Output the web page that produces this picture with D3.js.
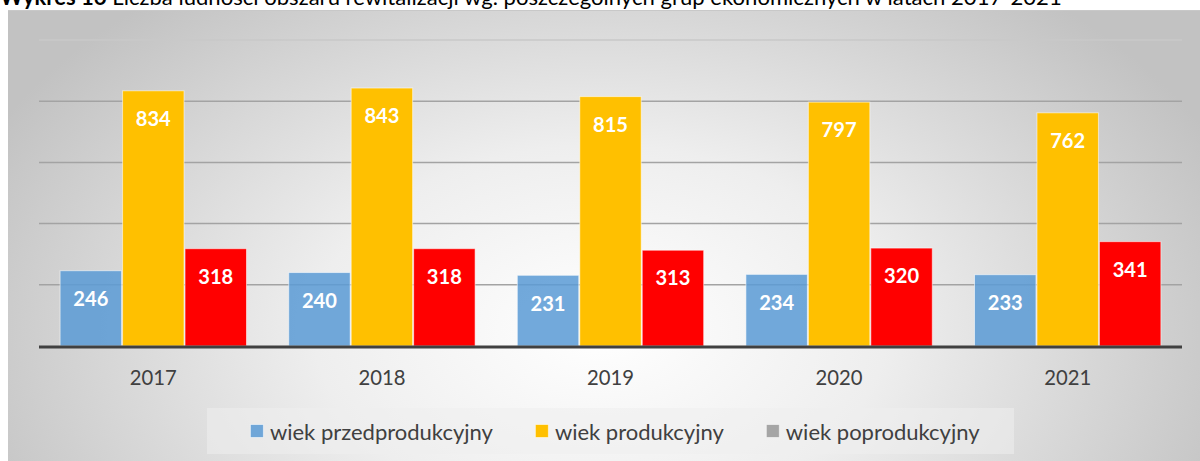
<!DOCTYPE html>
<html>
<head>
<meta charset="utf-8">
<script src="https://cdn.jsdelivr.net/npm/d3@7"></script>
<style>
  html, body { margin: 0; padding: 0; background: #ffffff; }
  svg { display: block; }
</style>
</head>
<body>
<svg id="chart" width="1200" height="461"></svg>
<script>
// ---- data ----
const titleBold = "Wykres 16";
const titleRest = " Liczba ludności obszaru rewitalizacji wg. poszczególnych grup ekonomicznych w latach 2017-2021";
const categories = ["2017", "2018", "2019", "2020", "2021"];
const seriesNames = ["wiek przedprodukcyjny", "wiek produkcyjny", "wiek poprodukcyjny"];
const przedprodukcyjny = [246, 240, 231, 234, 233];
const produkcyjny = [834, 843, 815, 797, 762];
const poprodukcyjny = [318, 318, 313, 320, 341];
const barColors = ["#5B9BD5", "#FFC000", "#FF0000"];
const legendColors = ["#5B9BD5", "#FFC000", "#A5A5A5"];
const yTicks = [0, 200, 400, 600, 800, 1000];

const seriesValues = [przedprodukcyjny, produkcyjny, poprodukcyjny];
const FONT = "Lato, 'Open Sans', sans-serif";

const svg = d3.select("#chart");
const W = 1200, H = 461;

// background gradient
const defs = svg.append("defs");
const grad = defs.append("radialGradient")
  .attr("id", "bg")
  .attr("gradientUnits", "userSpaceOnUse")
  .attr("cx", 0).attr("cy", 0).attr("r", 1)
  .attr("gradientTransform", "translate(600,330) scale(680,440)");
grad.append("stop").attr("offset", 0).attr("stop-color", "#ffffff");
grad.append("stop").attr("offset", 0.42).attr("stop-color", "#eeeeee");
grad.append("stop").attr("offset", 1).attr("stop-color", "#c2c2c2");

svg.append("rect")
  .attr("x", 8).attr("y", 10).attr("width", W - 8).attr("height", H - 10)
  .attr("fill", "url(#bg)");
svg.append("line")
  .attr("x1", 8).attr("x2", W).attr("y1", 10.5).attr("y2", 10.5)
  .attr("stroke", "#c8c8c8").attr("stroke-width", 1);

// helper: fit font size to a target width
function fitSize(sel, target) {
  const w0 = sel.node().getComputedTextLength();
  const fs = parseFloat(sel.attr("font-size"));
  return fs * target / w0;
}

// title (cut off at the top edge, as in the source)
const title = svg.append("text")
  .attr("x", 0).attr("y", 5)
  .attr("font-family", FONT).attr("font-size", 18).attr("fill", "#000");
title.append("tspan").attr("font-weight", "bold").text(titleBold);
title.append("tspan").text(titleRest);
title.attr("font-size", fitSize(title, 1062));

// scales
const plot = { left: 39, right: 1182, top: 40, bottom: 346 };
const y = d3.scaleLinear().domain([0, 1000]).range([plot.bottom, plot.top]);
const x0 = d3.scaleBand().domain(categories).range([plot.left, plot.right]).padding(0);
const x1 = d3.scaleBand().domain(d3.range(seriesNames.length))
  .range([0, x0.bandwidth()]).paddingInner(0).paddingOuter(0.33);

// gridlines
svg.append("g").selectAll("line")
  .data(yTicks.filter(d => d > 0))
  .join("line")
  .attr("x1", plot.left).attr("x2", plot.right)
  .attr("y1", d => y(d)).attr("y2", d => y(d))
  .attr("stroke", d => d === 1000 ? "#c9c9c9" : "#a3a3a3")
  .attr("stroke-width", 1.5);

// bars
const groups = svg.append("g").selectAll("g")
  .data(categories)
  .join("g")
  .attr("transform", d => `translate(${x0(d)},0)`);

const cells = groups.selectAll("g.cell")
  .data((c, ci) => seriesValues.map((vals, si) => ({ si, v: vals[ci] })))
  .join("g").attr("class", "cell");

cells.append("rect")
  .attr("x", d => x1(d.si) + 0.5)
  .attr("width", x1.bandwidth() - 1)
  .attr("y", d => y(d.v))
  .attr("height", d => y(0) - y(d.v))
  .attr("fill", d => barColors[d.si])
  .attr("fill-opacity", d => d.si === 0 ? 0.86 : 1)
  .attr("stroke", "rgba(255,255,255,0.55)")
  .attr("stroke-width", 1);

const labels = cells.append("text")
  .attr("x", d => x1(d.si) + x1.bandwidth() / 2)
  .attr("y", d => y(d.v) + 28)
  .attr("dy", "0.36em")
  .attr("text-anchor", "middle")
  .attr("font-family", FONT).attr("font-weight", "bold")
  .attr("font-size", 21).attr("fill", "#ffffff")
  .text(d => d.v);
labels.attr("font-size", fitSize(d3.select(labels.nodes()[0]), 35));

// baseline axis
svg.append("line")
  .attr("x1", plot.left).attr("x2", plot.right)
  .attr("y1", y(0) + 1).attr("y2", y(0) + 1)
  .attr("stroke", "#404040").attr("stroke-width", 3);

// x axis labels
const xAxis = d3.axisBottom(x0).tickSize(0).tickPadding(0);
const gx = svg.append("g").attr("transform", `translate(0,${y(0)})`).call(xAxis);
gx.select(".domain").remove();
const xt = gx.selectAll("text")
  .attr("y", 39).attr("dy", 0)
  .attr("font-family", FONT).attr("font-size", 20).attr("fill", "#404040");
xt.attr("font-size", fitSize(d3.select(xt.nodes()[0]), 47));

// legend
svg.append("rect")
  .attr("x", 207).attr("y", 408).attr("width", 807).attr("height", 46)
  .attr("fill", "#eeeeee").attr("fill-opacity", 0.55);

const legendTargets = [223, 170, 196];
const lg = svg.append("g");
const items = lg.selectAll("g").data(seriesNames).join("g");
items.append("rect")
  .attr("width", 13).attr("height", 13)
  .attr("y", 424.5)
  .attr("fill", (d, i) => legendColors[i])
  .attr("fill-opacity", (d, i) => i === 0 ? 0.86 : 1)
  .attr("stroke", "rgba(255,255,255,0.55)");
const ltexts = items.append("text")
  .attr("y", 439.5)
  .attr("font-family", FONT).attr("font-size", 20).attr("fill", "#404040")
  .text(d => d);
ltexts.attr("font-size", fitSize(d3.select(ltexts.nodes()[0]), legendTargets[0]));
const widths = ltexts.nodes().map(n => n.getComputedTextLength());
const itemW = widths.map(w => 13 + 6.5 + w);
const gap = 42.5;
const total = d3.sum(itemW) + gap * (itemW.length - 1);
let cx = 615 - total / 2;
items.each(function (d, i) {
  const g = d3.select(this);
  g.select("rect").attr("x", cx);
  g.select("text").attr("x", cx + 19.5);
  cx += itemW[i] + gap;
});
</script>
</body>
</html>
